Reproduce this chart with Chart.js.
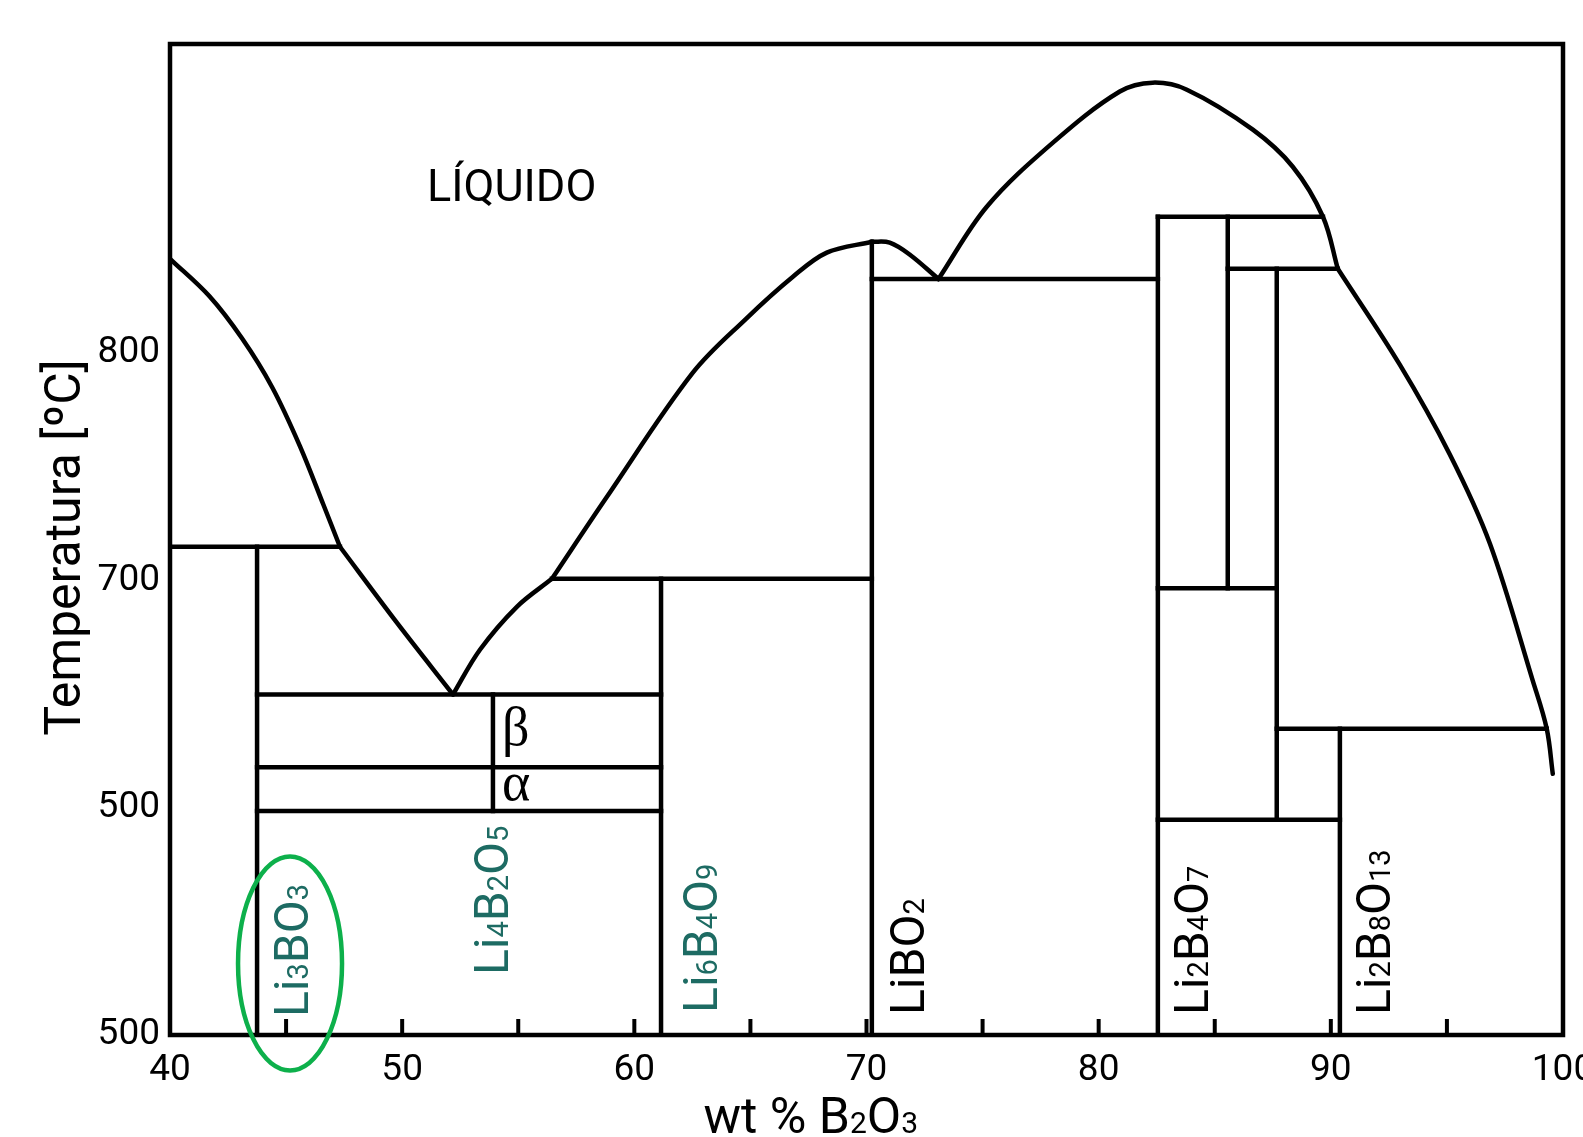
<!DOCTYPE html>
<html>
<head>
<meta charset="utf-8">
<script src="https://cdn.jsdelivr.net/npm/chart.js@4.4.1/dist/chart.umd.min.js"></script>
<style>
  html, body { margin: 0; padding: 0; background: #fff; }
</style>
</head>
<body>
<canvas id="phaseChart" width="1583" height="1137"></canvas>
<script>
// ---- data (x = wt % B2O3, y = temperature on the drawn scale) ----
const xTicks = [40, 50, 60, 70, 80, 90, 100];
const xMinorTicks = [45, 50, 55, 60, 65, 70, 75, 80, 85, 90, 95];
const yTicks = [500, 600, 700, 800];
const yTickLabels = ['500', '500', '700', '800'];

// liquidus curves
const liquidusLi3BO3 = [[40, 841.5], [41.7, 825], [43.1, 806.5], [44.4, 785], [45.6, 759], [46.6, 733.5], [47.32, 714.8]];
const eutecticLeft = [[47.32, 714.8], [49.78, 681.3], [52.19, 649.8]];
const eutecticRight = [[52.19, 649.8], [53.35, 669.5], [54.94, 688.4], [56.45, 700.7]];
const liquidusLiBO2 = [[56.45, 700.7], [58.82, 736.8], [62.52, 791.4], [64.8, 815], [66.83, 833.6], [68.29, 844.2], [70.23, 849]];
const domeLiBO2 = [[70.23, 849], [71.0, 848.6], [71.87, 843.3], [73.1, 832.6]];
const domeLi2B4O7 = [[73.1, 832.6], [75.18, 864.4], [78.03, 892.6], [80.91, 915.1], [82.33, 919.0], [83.8, 915.9], [86.64, 898.3], [88.36, 882.0], [89.66, 860.0], [90.3, 837.1]];
const liquidusRight = [[90.3, 837.1], [92.97, 794.9], [95.12, 755.5], [96.85, 716.2], [98.7, 655.8], [99.3, 634.7], [99.56, 614.9]];

// straight tie lines and compound lines [x1, y1, x2, y2]
const tieLines = [
  [40, 714.8, 47.32, 714.8],
  [43.75, 714.8, 43.75, 500],
  [43.75, 649.8, 61.15, 649.8],
  [43.75, 617.8, 61.15, 617.8],
  [43.75, 598.6, 61.15, 598.6],
  [53.91, 649.8, 53.91, 598.6],
  [56.45, 700.7, 70.23, 700.7],
  [61.15, 700.7, 61.15, 500],
  [70.23, 849, 70.23, 500],
  [70.23, 832.6, 82.55, 832.6],
  [82.55, 860, 82.55, 500],
  [82.55, 860, 89.66, 860],
  [85.56, 860, 85.56, 696.6],
  [85.56, 837.1, 90.3, 837.1],
  [82.55, 696.6, 87.67, 696.6],
  [87.67, 837.1, 87.67, 594.7],
  [87.67, 634.7, 99.3, 634.7],
  [90.39, 634.7, 90.39, 500],
  [82.55, 594.7, 90.39, 594.7]
];

const compounds = ['Li3BO3', 'Li4B2O5', 'Li6B4O9', 'LiBO2', 'Li2B4O7', 'Li2B8O13'];
const compoundX = [45.94, 54.56, 63.56, 72.47, 84.70, 92.54];
const compoundY = [507.9, 526.4, 509.7, 508.8, 508.8, 508.8];

const TEAL = '#1d6b63';
const GREEN = '#0db04b';
const compoundColor = [TEAL, TEAL, TEAL, '#000', '#000', '#000'];

function toPoints(arr) {
  return arr.map(p => ({ x: p[0], y: p[1] }));
}

function curve(arr) {
  return {
    data: toPoints(arr),
    showLine: true,
    borderColor: '#000',
    borderWidth: 4.5,
    pointRadius: 0,
    tension: 0.35,
    borderJoinStyle: 'round',
    borderCapStyle: 'round'
  };
}

function segment(s) {
  return {
    data: [{ x: s[0], y: s[1] }, { x: s[2], y: s[3] }],
    showLine: true,
    borderColor: '#000',
    borderWidth: 4.5,
    pointRadius: 0,
    borderCapStyle: 'square'
  };
}

// draws text, turning digits into small baseline digits (chemical formula style)
function drawFormula(ctx, text, size, family, color, align) {
  const parts = text.match(/[0-9]+|[^0-9]+/g);
  const subSize = Math.round(size * 0.6);
  let total = 0;
  const widths = parts.map(p => {
    ctx.font = (/[0-9]/.test(p) ? subSize : size) + 'px ' + family;
    const w = ctx.measureText(p).width;
    total += w;
    return w;
  });
  let x = align === 'center' ? -total / 2 : 0;
  ctx.fillStyle = color;
  ctx.textAlign = 'left';
  ctx.textBaseline = 'alphabetic';
  parts.forEach((p, i) => {
    ctx.font = (/[0-9]/.test(p) ? subSize : size) + 'px ' + family;
    ctx.fillText(p, x, 0);
    x += widths[i];
  });
}

const diagramPlugin = {
  id: 'diagram',
  afterDatasetsDraw(chart) {
    const ctx = chart.ctx;
    const area = chart.chartArea;
    const xs = chart.scales.x;
    const ys = chart.scales.y;

    ctx.save();
    // frame
    ctx.strokeStyle = '#000';
    ctx.lineWidth = 4.5;
    ctx.strokeRect(area.left, area.top, area.right - area.left, area.bottom - area.top);

    // inward ticks on the bottom axis
    ctx.lineWidth = 4;
    xMinorTicks.forEach(v => {
      const px = xs.getPixelForValue(v);
      ctx.beginPath();
      ctx.moveTo(px, area.bottom);
      ctx.lineTo(px, area.bottom - 16);
      ctx.stroke();
    });

    // compound labels (rotated)
    compounds.forEach((name, i) => {
      ctx.save();
      ctx.translate(xs.getPixelForValue(compoundX[i]), ys.getPixelForValue(compoundY[i]));
      ctx.rotate(-Math.PI / 2);
      drawFormula(ctx, name, 48, 'Roboto', compoundColor[i], 'left');
      ctx.restore();
    });

    // region labels
    ctx.fillStyle = '#000';
    ctx.textAlign = 'left';
    ctx.textBaseline = 'alphabetic';
    ctx.font = '45px Roboto';
    ctx.fillText('LÍQUIDO', xs.getPixelForValue(51.07), ys.getPixelForValue(867));
    ctx.font = '54px "Liberation Serif"';
    ctx.fillText('β', xs.getPixelForValue(54.3), ys.getPixelForValue(627.6));
    ctx.fillText('α', xs.getPixelForValue(54.3), ys.getPixelForValue(603.4));

    // green ellipse around Li3BO3
    ctx.strokeStyle = GREEN;
    ctx.lineWidth = 4.5;
    ctx.beginPath();
    ctx.ellipse(xs.getPixelForValue(45.17), ys.getPixelForValue(531.5), 52, 107, 0, 0, Math.PI * 2);
    ctx.stroke();

    // axis titles
    ctx.save();
    ctx.translate(80, (area.top + area.bottom) / 2 + 8);
    ctx.rotate(-Math.PI / 2);
    drawFormula(ctx, 'Temperatura [ºC]', 50, 'Roboto', '#000', 'center');
    ctx.restore();

    ctx.save();
    ctx.translate(xs.getPixelForValue(67.6), 1133);
    drawFormula(ctx, 'wt % B2O3', 50, 'Roboto', '#000', 'center');
    ctx.restore();

    ctx.restore();
  }
};

const datasets = [
  curve(liquidusLi3BO3),
  curve(eutecticLeft),
  curve(eutecticRight),
  curve(liquidusLiBO2),
  curve(domeLiBO2),
  curve(domeLi2B4O7),
  curve(liquidusRight)
].concat(tieLines.map(segment));

new Chart(document.getElementById('phaseChart'), {
  type: 'scatter',
  data: { datasets: datasets },
  options: {
    responsive: false,
    animation: false,
    layout: { padding: { top: 44, right: 20, left: 0, bottom: 0 } },
    plugins: {
      legend: { display: false },
      tooltip: { enabled: false }
    },
    scales: {
      x: {
        type: 'linear',
        min: 40,
        max: 100,
        afterBuildTicks(scale) {
          scale.ticks = xTicks.map(v => ({ value: v }));
        },
        afterFit(scale) {
          scale.height = 102;
          scale.paddingLeft = 0;
          scale.paddingRight = 0;
        },
        ticks: {
          autoSkip: false,
          maxRotation: 0,
          padding: 14,
          color: '#000',
          font: { family: 'Roboto', size: 37 }
        },
        grid: { display: false, drawTicks: false },
        border: { display: false }
      },
      y: {
        type: 'linear',
        min: 500,
        max: 936,
        afterBuildTicks(scale) {
          scale.ticks = yTicks.map(v => ({ value: v }));
        },
        afterFit(scale) {
          scale.width = 170;
          scale.paddingTop = 0;
          scale.paddingBottom = 0;
        },
        ticks: {
          autoSkip: false,
          padding: 10,
          color: '#000',
          font: { family: 'Roboto', size: 37 },
          callback: (value, index) => yTickLabels[index]
        },
        grid: { display: false, drawTicks: false },
        border: { display: false }
      }
    }
  },
  plugins: [diagramPlugin]
});
</script>
</body>
</html>
